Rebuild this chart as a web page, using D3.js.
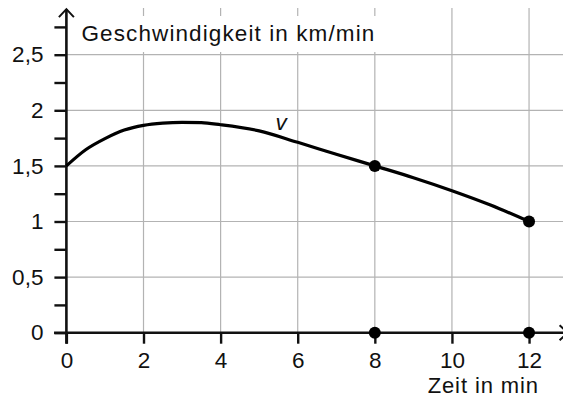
<!DOCTYPE html>
<html>
<head>
<meta charset="utf-8">
<script src="https://cdn.jsdelivr.net/npm/d3@7"></script>
<style>
  html, body { margin: 0; padding: 0; background: #fff; }
  svg { display: block; }
  text { font-family: "Liberation Sans", Arial, sans-serif; fill: #111; }
</style>
</head>
<body>
<div id="chart"></div>
<script>
// values
const zeit = [0, 0.5, 1, 1.5, 2, 2.5, 3, 3.5, 4, 5, 6, 7, 8, 9, 10, 11, 12];
const geschw = [1.5, 1.645, 1.745, 1.822, 1.865, 1.885, 1.892, 1.889, 1.87, 1.815, 1.712, 1.605, 1.5, 1.394, 1.277, 1.148, 1.0];
const markT = [8, 12];
const markV = [1.5, 1.0];
const xTicks = [0, 2, 4, 6, 8, 10, 12];
const yTicks = [0, 0.5, 1, 1.5, 2, 2.5];
const yMinor = [0.25, 0.75, 1.25, 1.75, 2.25, 2.75];

const width = 563, height = 397;

const svg = d3.select("#chart")
    .append("svg")
    .attr("width", width)
    .attr("height", height);

// scales
const x = d3.scaleLinear().domain([0, 13]).range([66.4, 567.6]);
const y = d3.scaleLinear().domain([0, 2.92]).range([332.7, 8]);

// grid
const grid = svg.append("g").attr("stroke", "#b3b3b3").attr("stroke-width", 1.2);
grid.selectAll(".gx")
    .data(xTicks.filter(d => d > 0))
    .enter().append("line")
    .attr("x1", d => x(d)).attr("x2", d => x(d))
    .attr("y1", y(0)).attr("y2", y(2.92));
grid.selectAll(".gy")
    .data(yTicks.filter(d => d > 0))
    .enter().append("line")
    .attr("x1", x(0)).attr("x2", x(13))
    .attr("y1", d => y(d)).attr("y2", d => y(d));

// y axis label with white box
svg.append("rect")
    .attr("x", 76).attr("y", 16)
    .attr("width", 306).attr("height", 36)
    .attr("fill", "#fff");
svg.append("text")
    .attr("x", 81.5)
    .attr("y", 40.5)
    .attr("font-size", "22.5px")
    .attr("letter-spacing", "1.1px")
    .text("Geschwindigkeit in km/min");

// axes through d3
const yAxis = svg.append("g")
    .attr("transform", "translate(" + x(0) + ",0)")
    .call(d3.axisLeft(y)
        .tickValues(yTicks)
        .tickSize(12)
        .tickPadding(11)
        .tickFormat(d => String(d).replace(".", ",")));
const yAxisMinor = svg.append("g")
    .attr("transform", "translate(" + x(0) + ",0)")
    .call(d3.axisLeft(y).tickValues(yMinor).tickSize(12).tickFormat(""));
const xAxis = svg.append("g")
    .attr("transform", "translate(0," + y(0) + ")")
    .call(d3.axisBottom(x)
        .tickValues(xTicks)
        .tickSize(11)
        .tickPadding(8.5)
        .tickFormat(d => d));

[yAxis, yAxisMinor, xAxis].forEach(a => {
    a.select(".domain").remove();
    a.selectAll(".tick line").attr("stroke", "#111").attr("stroke-width", 2.4);
    a.selectAll(".tick text")
        .attr("font-size", "22.5px")
        .attr("font-family", "Liberation Sans, Arial, sans-serif")
        .attr("fill", "#111");
});

// axis lines with arrows
svg.append("line")
    .attr("x1", x(-0.32)).attr("x2", x(13))
    .attr("y1", y(0)).attr("y2", y(0))
    .attr("stroke", "#111").attr("stroke-width", 2.6);
svg.append("line")
    .attr("x1", x(0)).attr("x2", x(0))
    .attr("y1", y(-0.1)).attr("y2", y(2.91))
    .attr("stroke", "#111").attr("stroke-width", 2.6);
svg.append("path")
    .attr("d", "M" + (x(0) - 7.5) + "," + (y(2.91) + 8) + "L" + x(0) + "," + y(2.91) + "L" + (x(0) + 7.5) + "," + (y(2.91) + 8))
    .attr("fill", "none").attr("stroke", "#111").attr("stroke-width", 2);
svg.append("path")
    .attr("d", "M" + (x(13) - 8) + "," + (y(0) - 7.5) + "L" + x(13) + "," + y(0) + "L" + (x(13) - 8) + "," + (y(0) + 7.5))
    .attr("fill", "none").attr("stroke", "#111").attr("stroke-width", 2);

// curve
const line = d3.line()
    .x((d, i) => x(zeit[i]))
    .y(d => y(d))
    .curve(d3.curveMonotoneX);
svg.append("path")
    .datum(geschw)
    .attr("d", line)
    .attr("fill", "none")
    .attr("stroke", "#000")
    .attr("stroke-width", 3.2);

svg.append("text")
    .attr("x", x(5.57))
    .attr("y", y(1.823))
    .attr("text-anchor", "middle")
    .attr("font-size", "22.5px")
    .attr("font-style", "italic")
    .text("v");

// marked points and their feet on the time axis
svg.selectAll(".pt")
    .data(markT.map((t, i) => [t, markV[i]]).concat(markT.map(t => [t, 0])))
    .enter().append("circle")
    .attr("cx", d => x(d[0]))
    .attr("cy", d => y(d[1]))
    .attr("r", 6)
    .attr("fill", "#000");

// x axis label
svg.append("text")
    .attr("x", 539)
    .attr("y", 392.5)
    .attr("text-anchor", "end")
    .attr("font-size", "22px")
    .attr("letter-spacing", "0.9px")
    .text("Zeit in min");
</script>
</body>
</html>
